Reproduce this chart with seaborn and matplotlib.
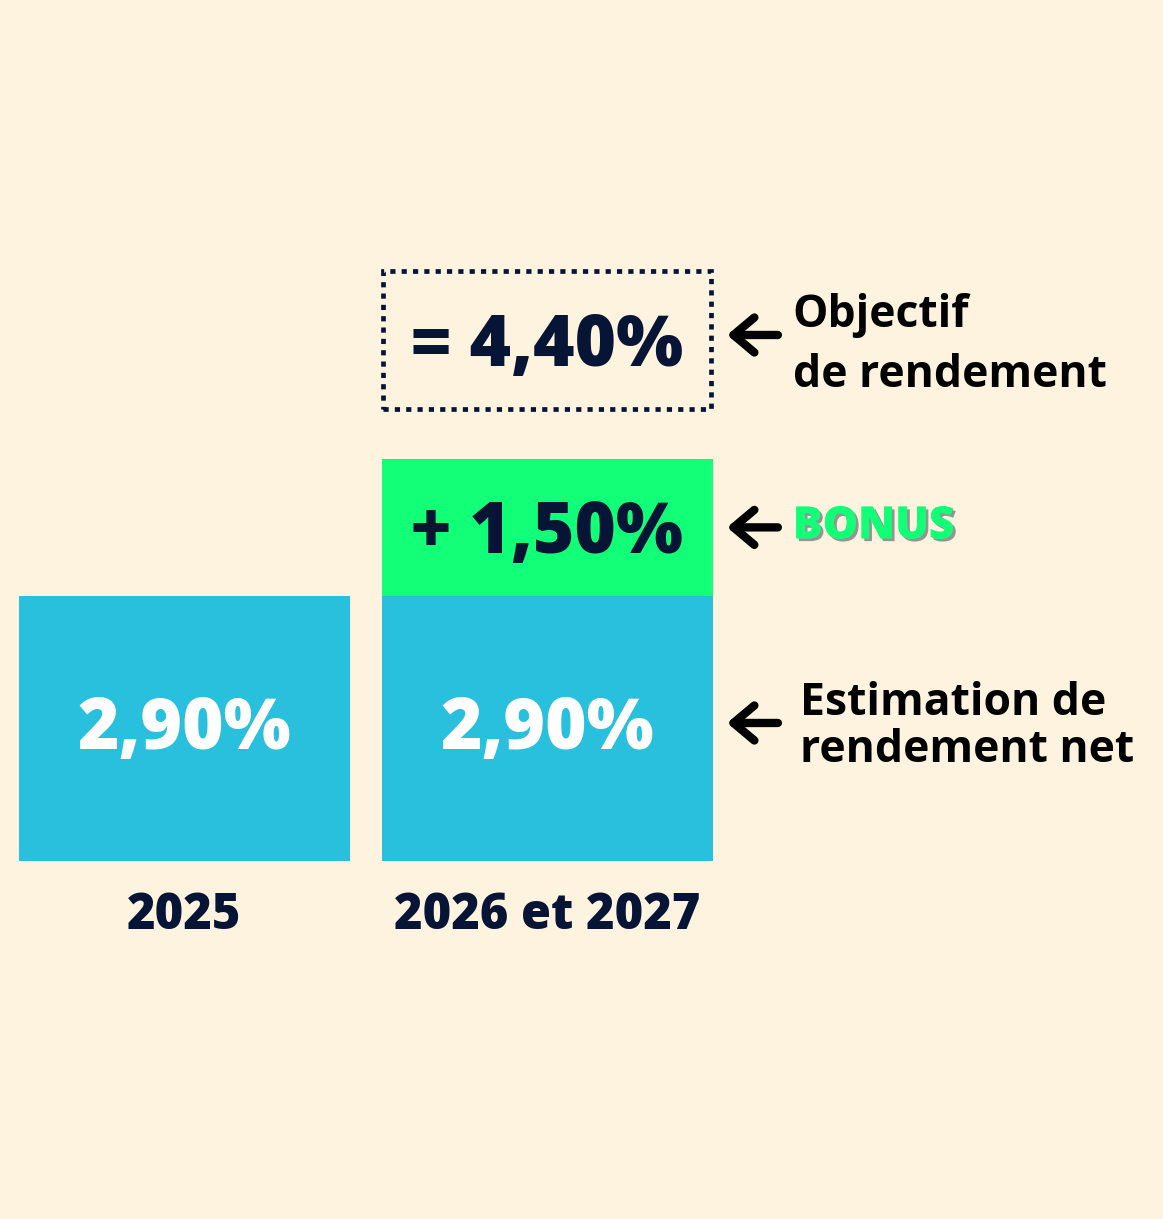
import matplotlib
matplotlib.use("Agg")
import matplotlib.pyplot as plt
import matplotlib.patheffects as pe
from matplotlib.patches import Rectangle
import seaborn as sns

# data
jaren = ["2025", "2026 et 2027"]
basis = [2.90, 2.90]
bonus = [0.00, 1.50]
totaal = [b + x for b, x in zip(basis, bonus)]
basis_labels = ["2,90%", "2,90%"]
bonus_label = "+ 1,50%"
totaal_label = "= 4,40%"

achtergrond = "#FEF3DE"
blauw = "#29C0DE"
groen = "#12FF78"
navy = "#061536"

sns.set_style("white")
plt.rcParams["font.family"] = ["Open Sans", "DejaVu Sans"]

fig = plt.figure(figsize=(11.63, 12.19), dpi=100)
fig.patch.set_facecolor(achtergrond)
ax = fig.add_axes([0, 0, 1, 1])
ax.set_facecolor(achtergrond)

breedte = 0.912
# groene totaal-staaf eerst, blauwe basis erover
sns.barplot(x=jaren, y=totaal, color=groen, saturation=1, width=breedte,
            linewidth=0, ax=ax)
sns.barplot(x=jaren, y=basis, color=blauw, saturation=1, width=breedte,
            linewidth=0, ax=ax)

ax.set_xlim(-0.508, 2.696)
ax.set_ylim(-3.917, 9.42)
ax.axis("off")

# waarden in de staven
for i, lab in enumerate(basis_labels):
    ax.text(i, basis[i] / 2 - 0.225, lab, ha="center", va="baseline",
            fontsize=51, fontweight="heavy", color="white")

ax.text(1, basis[1] + bonus[1] / 2 - 0.284, bonus_label, ha="center",
        va="baseline", fontsize=51, fontweight="heavy", color=navy)

# gestippelde doos met het totaal
doos_onder, doos_boven = 4.95, 6.45
ax.add_patch(Rectangle((1 - breedte / 2 + 0.004, doos_onder), breedte - 0.008,
                       doos_boven - doos_onder, fill=False, edgecolor=navy,
                       lw=3.4, linestyle=(0, (1.1, 1.3))))
ax.text(1, 5.416, totaal_label, ha="center", va="baseline",
        fontsize=51, fontweight="heavy", color=navy)

# jaartallen
for i, jaar in enumerate(jaren):
    ax.text(i, -0.744, jaar, ha="center", va="baseline",
            fontsize=35, fontweight="heavy", color=navy)

# pijlen en uitleg
pijl = dict(arrowstyle="->,head_length=0.5,head_width=0.42", lw=6,
            color="black", capstyle="round", joinstyle="round",
            shrinkA=0, shrinkB=0, mutation_scale=30)

def pijltje(y):
    ax.annotate("", xy=(1.495, y), xytext=(1.635, y), arrowprops=pijl)

pijltje(5.755)
ax.text(1.676, 5.84, "Objectif", fontsize=32, fontweight="bold",
        color="black", va="baseline")
ax.text(1.676, 5.186, "de rendement", fontsize=32, fontweight="bold",
        color="black", va="baseline")

bonus_y = basis[1] + bonus[1] / 2
pijltje(bonus_y)
ax.text(1.676, bonus_y - 0.12, "BONUS", fontsize=32, fontweight="heavy",
        color=groen, va="baseline",
        path_effects=[pe.withSimplePatchShadow(offset=(2, -2),
                                               shadow_rgbFace="#8a8a8a",
                                               alpha=0.9), pe.Normal()])

pijltje(1.51)
ax.text(1.695, 1.597, "Estimation de", fontsize=32, fontweight="bold",
        color="black", va="baseline")
ax.text(1.695, 1.083, "rendement net", fontsize=32, fontweight="bold",
        color="black", va="baseline")

plt.savefig("out.png", dpi=100, facecolor=achtergrond)
